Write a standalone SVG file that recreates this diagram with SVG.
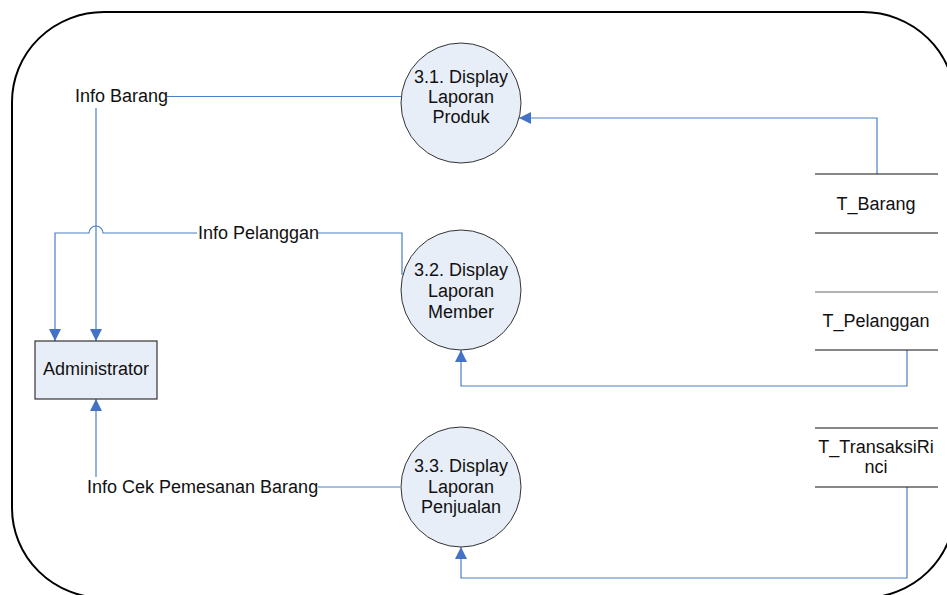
<svg xmlns="http://www.w3.org/2000/svg" width="947" height="595" viewBox="0 0 947 595">
<defs>
<marker id="arr" markerWidth="12" markerHeight="12" refX="12" refY="6" orient="auto" markerUnits="userSpaceOnUse">
<path d="M0,0 L12,6 L0,12 z" fill="#4472C4"/>
</marker>
<style>
text{font-family:"Liberation Sans",Arial,sans-serif;font-size:18px;fill:#111}
.c{text-anchor:middle}
.proc{fill:#E8EEF8;stroke:#333;stroke-width:1}
.flow{fill:none;stroke:#4A7EC6;stroke-width:1.2}
.arrow{marker-end:url(#arr)}
.store{stroke:#111;stroke-width:1.2}
</style>
</defs>
<rect width="947" height="595" fill="#fff"/>
<rect id="boundary" x="12" y="12" width="943" height="586" rx="92" ry="90" fill="none" stroke="#000" stroke-width="2"/>

<g id="connectors">
<path class="flow" d="M167,96.5 H401"/>
<path class="flow arrow" d="M96,108 V341"/>
<path class="flow" d="M402,275 V233 H318"/>
<path class="flow arrow" d="M197,233 H103 a7,7 0 0 0 -14,0 H55 V341"/>
<path class="flow" d="M400,487 H318"/>
<path class="flow arrow" d="M96,477 V399"/>
<path class="flow arrow" d="M877,174 V118 H519"/>
<path class="flow arrow" d="M907,350 V386 H461 V350"/>
<path class="flow arrow" d="M907,487 V578 H461 V547"/>
</g>

<g id="label-info-barang"><text x="75" y="102">Info Barang</text></g>
<g id="label-info-pelanggan"><text x="198" y="239">Info Pelanggan</text></g>
<g id="label-info-cek"><text x="87" y="493">Info Cek Pemesanan Barang</text></g>

<g id="p31">
<circle class="proc" cx="461" cy="103" r="60"/>
<text class="c" x="461" y="83">3.1. Display</text>
<text class="c" x="461" y="103">Laporan</text>
<text class="c" x="461" y="123">Produk</text>
</g>
<g id="p32">
<circle class="proc" cx="461" cy="290" r="60"/>
<text class="c" x="461" y="276">3.2. Display</text>
<text class="c" x="461" y="297">Laporan</text>
<text class="c" x="461" y="318">Member</text>
</g>
<g id="p33">
<circle class="proc" cx="461" cy="487" r="60"/>
<text class="c" x="461" y="472">3.3. Display</text>
<text class="c" x="461" y="493">Laporan</text>
<text class="c" x="461" y="513">Penjualan</text>
</g>

<g id="administrator">
<rect x="35" y="341" width="122" height="58" fill="#E8EEF8" stroke="#333" stroke-width="1.2"/>
<text class="c" x="96" y="375">Administrator</text>
</g>

<g id="t-barang">
<line class="store" x1="815" y1="174" x2="938" y2="174"/>
<line class="store" x1="815" y1="233" x2="938" y2="233"/>
<text class="c" x="876" y="210">T_Barang</text>
</g>
<g id="t-pelanggan">
<line class="store" x1="815" y1="292" x2="938" y2="292" style="stroke:#666"/>
<line class="store" x1="815" y1="350" x2="938" y2="350"/>
<text class="c" x="876" y="327">T_Pelanggan</text>
</g>
<g id="t-transaksirinci">
<line class="store" x1="815" y1="428" x2="938" y2="428"/>
<line class="store" x1="815" y1="487" x2="938" y2="487"/>
<text class="c" x="876" y="453">T_TransaksiRi</text>
<text class="c" x="876" y="473">nci</text>
</g>
</svg>
